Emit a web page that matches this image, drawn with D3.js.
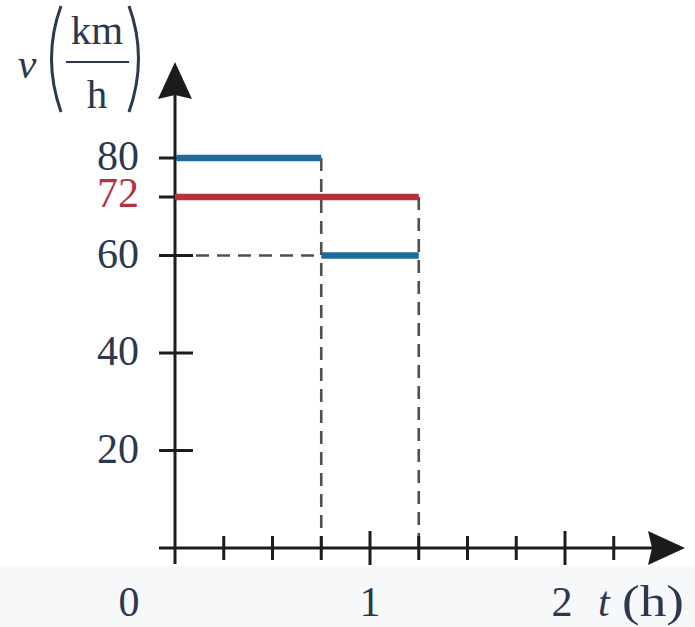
<!DOCTYPE html>
<html>
<head>
<meta charset="utf-8">
<script src="https://cdn.jsdelivr.net/npm/d3@7"></script>
<style>
  html, body { margin: 0; padding: 0; background: #ffffff; }
  svg { display: block; }
</style>
</head>
<body>
<div id="chart"></div>
<script>
// ---- data ----
const legStart = [0, 0.75];        // h
const legEnd = [0.75, 1.25];       // h
const legSpeed = [80, 60];         // km/h
const avgSpeed = 72;               // km/h
const totalTime = 1.25;            // h
const yTickValues = [20, 40, 60, 72, 80];
const yTickLabels = ["20", "40", "60", "72", "80"];
const xTickValues = [0, 0.25, 0.5, 0.75, 1, 1.25, 1.5, 1.75, 2, 2.25];
const xMajorValues = [0, 1, 2];
const xLabelValues = [0, 1, 2];
const xLabelTexts = ["0", "1", "2"];

// ---- layout ----
const W = 695, H = 627;
const ink = "#1c1c1c";
const textCol = "#2b3850";
const blue = "#1f6a9d";
const red = "#b3323f";
const dashCol = "#505050";
const fontFam = "'Liberation Serif', 'DejaVu Serif', serif";

const x = d3.scaleLinear().domain([0, 2]).range([175, 565]);
const y = d3.scaleLinear().domain([0, 80]).range([548, 158]);

const svg = d3.select("#chart").append("svg")
  .attr("width", W).attr("height", H);

// faint tinted band at bottom
svg.append("rect").attr("x", 0).attr("y", 566).attr("width", W).attr("height", H - 566)
  .attr("fill", "#f6f8f9");

// ---- dashed guide lines ----
const g = svg.append("g");
const dash = "13,8";
g.append("line")
  .attr("x1", x(0)).attr("x2", x(legEnd[0]))
  .attr("y1", y(legSpeed[1])).attr("y2", y(legSpeed[1]))
  .attr("stroke", dashCol).attr("stroke-width", 2.6).attr("stroke-dasharray", dash);
g.append("line")
  .attr("x1", x(legEnd[0])).attr("x2", x(legEnd[0]))
  .attr("y1", y(legSpeed[0])).attr("y2", y(0))
  .attr("stroke", dashCol).attr("stroke-width", 2.6).attr("stroke-dasharray", dash);
g.append("line")
  .attr("x1", x(totalTime)).attr("x2", x(totalTime))
  .attr("y1", y(avgSpeed)).attr("y2", y(0))
  .attr("stroke", dashCol).attr("stroke-width", 2.6).attr("stroke-dasharray", dash);

// ---- axes ----
const axis = svg.append("g");
axis.append("line")
  .attr("x1", x(0)).attr("x2", x(0)).attr("y1", 564).attr("y2", 80)
  .attr("stroke", ink).attr("stroke-width", 3);
axis.append("line")
  .attr("x1", 159).attr("x2", 665).attr("y1", y(0)).attr("y2", y(0))
  .attr("stroke", ink).attr("stroke-width", 3);
axis.append("path")
  .attr("d", `M${x(0)},62 L${x(0) + 17},99 L${x(0)},95 L${x(0) - 17},99 Z`)
  .attr("fill", ink);
axis.append("path")
  .attr("d", `M685,${y(0)} L648,${y(0) - 17} L652,${y(0)} L648,${y(0) + 17} Z`)
  .attr("fill", ink);

axis.selectAll(".ytick").data(yTickValues).enter().append("line")
  .attr("x1", 159).attr("x2", 193)
  .attr("y1", d => y(d)).attr("y2", d => y(d))
  .attr("stroke", ink).attr("stroke-width", 3);

axis.selectAll(".xtick").data(xTickValues.filter(d => d > 0)).enter().append("line")
  .attr("x1", d => x(d)).attr("x2", d => x(d))
  .attr("y1", d => xMajorValues.includes(d) ? 531 : 536)
  .attr("y2", d => xMajorValues.includes(d) ? 565 : 560)
  .attr("stroke", ink).attr("stroke-width", 3);

// ---- speed segments ----
const seg = svg.append("g");
seg.append("line")
  .attr("x1", x(0)).attr("x2", x(totalTime))
  .attr("y1", y(avgSpeed)).attr("y2", y(avgSpeed))
  .attr("stroke", red).attr("stroke-width", 6.5);
seg.selectAll(".leg").data(legSpeed).enter().append("line")
  .attr("x1", (d, i) => x(legStart[i]) + (i === 0 ? 1.5 : 0))
  .attr("x2", (d, i) => x(legEnd[i]))
  .attr("y1", d => y(d)).attr("y2", d => y(d))
  .attr("stroke", blue).attr("stroke-width", 6.5);

// ---- tick labels ----
const lab = svg.append("g").attr("font-family", fontFam).attr("font-size", 42);
lab.selectAll(".ylab").data(yTickValues).enter().append("text")
  .attr("x", 139)
  .attr("y", d => y(d) + (d === avgSpeed ? 10 : 12))
  .attr("text-anchor", "end")
  .attr("fill", d => d === avgSpeed ? red : textCol)
  .text((d, i) => yTickLabels[i]);

const xLabelOffsets = [-46, 0, -3];
lab.selectAll(".xlab").data(xLabelValues).enter().append("text")
  .attr("x", (d, i) => x(d) + xLabelOffsets[i])
  .attr("y", 616)
  .attr("text-anchor", "middle")
  .attr("fill", textCol)
  .text((d, i) => xLabelTexts[i]);

// x-axis title t (h)
lab.append("text").attr("x", 598).attr("y", 616).attr("fill", textCol)
  .attr("font-style", "italic").text("t");
lab.append("text").attr("x", 622).attr("y", 616).attr("fill", textCol)
  .attr("font-size", 44)
  .attr("textLength", 62).attr("lengthAdjust", "spacingAndGlyphs").text("(h)");

// y-axis title v (km / h)
const yt = svg.append("g").attr("font-family", fontFam).attr("fill", textCol);
yt.append("text").attr("x", 27).attr("y", 78).attr("text-anchor", "middle")
  .attr("font-size", 42).attr("font-style", "italic").text("v");
yt.append("text").attr("x", 97).attr("y", 44).attr("text-anchor", "middle")
  .attr("font-size", 41).text("km");
yt.append("line").attr("x1", 66).attr("x2", 129).attr("y1", 62).attr("y2", 62)
  .attr("stroke", textCol).attr("stroke-width", 2);
yt.append("text").attr("x", 97).attr("y", 108).attr("text-anchor", "middle")
  .attr("font-size", 41).text("h");
yt.append("path").attr("d", "M61,6 Q42,58 61,112").attr("fill", "none")
  .attr("stroke", textCol).attr("stroke-width", 3);
yt.append("path").attr("d", "M129,6 Q148,58 129,112").attr("fill", "none")
  .attr("stroke", textCol).attr("stroke-width", 3);
</script>
</body>
</html>
